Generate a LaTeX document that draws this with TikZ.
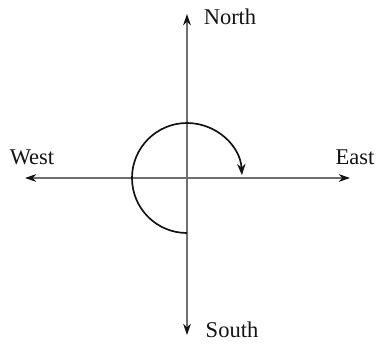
\documentclass[tikz,border=0pt]{standalone}
\usepackage{fontspec}
\setmainfont{Liberation Serif}
\usetikzlibrary{arrows.meta, positioning}
\definecolor{AxisGray}{RGB}{110, 110, 110}
\definecolor{InkBlack}{RGB}{20, 20, 20}

\begin{document}
\begin{tikzpicture}[x=0.025cm, y=0.025cm, >=stealth]
    \useasboundingbox (-187, -167) rectangle (192, 178);
    \tikzset{
        axisline/.style={color=AxisGray, line width=1.3pt, {Stealth[InkBlack, length=8pt, width=5.5pt]}-{Stealth[InkBlack, length=8pt, width=5.5pt]}},
        dirlabel/.style={font=\fontsize{16}{18}\selectfont, color=InkBlack}
    }
    % Centre and axis ends
    \coordinate (O) at (0, 0);
    \coordinate (N) at (0, 164);
    \coordinate (S) at (0, -157);
    \coordinate (W) at (-162, 0);
    \coordinate (E) at (163, 0);

    % Compass labels
    \node[dirlabel] (north) at (43, 161) {North};
    \node[dirlabel] (south) at (45, -152) {South};
    \node[dirlabel] (west) at (-155, 21) {West};
    \node[dirlabel] (east) at (168, 21) {East};

    % Axes
    \draw[axisline] (S) -- (N);
    \draw[axisline] (W) -- (E);

    % Turning arc, clockwise from south to east
    \draw[color=InkBlack, line width=1.2pt, -{Stealth[length=8pt, width=6pt]}] (O) ++(0, -55) arc[start angle=270, end angle=3, radius=55];
\end{tikzpicture}
\end{document}
